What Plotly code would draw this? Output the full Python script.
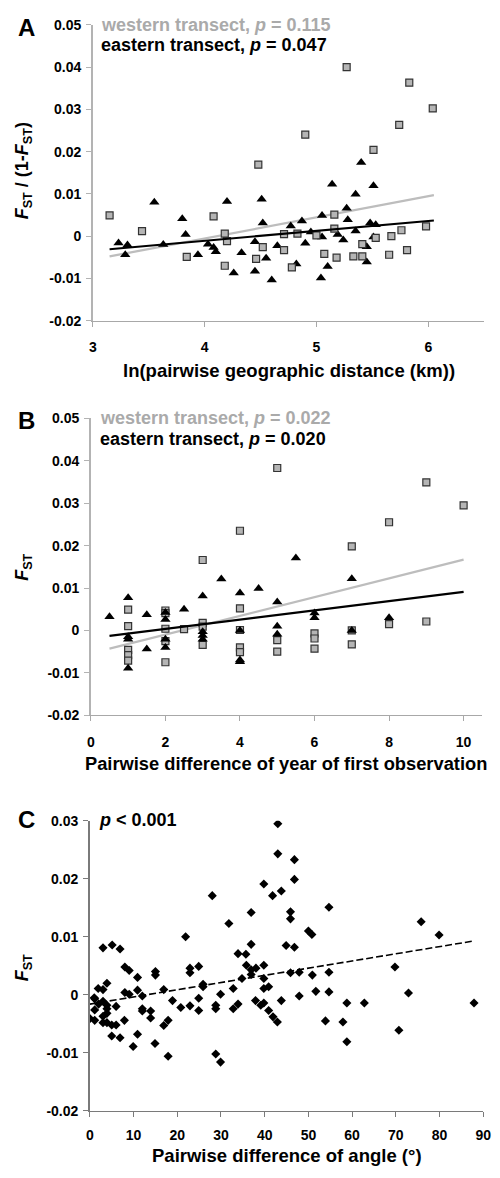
import plotly.graph_objects as go

# ---- panel A: ln(distance) vs Fst/(1-Fst)
west_a_x = [3.15, 3.44, 3.84, 4.08, 4.18, 4.20, 4.18, 4.46, 4.48, 4.52, 4.71, 4.71, 4.78, 4.83, 4.90,
            5.00, 5.07, 5.16, 5.16, 5.18, 5.27, 5.33, 5.41, 5.41, 5.51, 5.53, 5.65, 5.67, 5.74, 5.76,
            5.81, 5.83, 5.98, 6.04]
west_a_y = [0.0049, 0.0012, -0.0049, 0.0047, 0.0006, -0.0012, -0.0070, -0.0054, 0.0169, -0.0026,
            0.0005, -0.0033, -0.0074, 0.0006, 0.0240, 0.0002, -0.0042, 0.0051, 0.0018, -0.0051,
            0.0400, -0.0048, -0.0048, -0.0019, 0.0204, -0.0004, -0.0044, 0.0000, 0.0263, 0.0014,
            -0.0033, 0.0363, 0.0023, 0.0302]
east_a_x = [3.23, 3.29, 3.31, 3.55, 3.63, 3.80, 3.83, 3.94, 4.03, 4.08, 4.10, 4.20, 4.26, 4.33, 4.45,
            4.45, 4.51, 4.52, 4.55, 4.60, 4.65, 4.77, 4.82, 4.87, 4.90, 4.95, 5.04, 5.05, 5.05, 5.10,
            5.14, 5.19, 5.24, 5.27, 5.28, 5.35, 5.35, 5.40, 5.45, 5.45, 5.48, 5.51, 5.51, 5.53]
east_a_y = [-0.0016, -0.0044, -0.0021, 0.0080, -0.0020, 0.0041, 0.0004, -0.0044, -0.0019, -0.0027,
            -0.0037, 0.0082, -0.0087, -0.0039, -0.0013, -0.0083, 0.0087, 0.0031, -0.0052, -0.0104,
            -0.0023, 0.0024, -0.0066, 0.0036, -0.0017, 0.0010, -0.0099, 0.0049, -0.0002, -0.0072,
            0.0123, 0.0004, -0.0009, 0.0066, 0.0039, 0.0012, 0.0099, 0.0174, -0.0025, -0.0061,
            0.0031, -0.0002, 0.0119, 0.0027]
trend_a_x = [3.15, 6.05]
trend_a_west = [-0.0048, 0.0097]
trend_a_east = [-0.0031, 0.0037]

# ---- panel B: difference of year of first observation vs Fst
west_b_x = [1, 1, 1, 1, 1, 2, 2, 2, 2, 2, 2.5, 3, 3, 3, 3, 4, 4, 4, 4, 4, 5, 5, 5, 6, 6, 6,
            7, 7, 7, 8, 8, 9, 9, 10]
west_b_y = [0.0049, 0.0010, -0.0046, -0.0058, -0.0071, 0.0047, 0.0041, 0.0004, -0.0025, -0.0075,
            0.0003, 0.0166, 0.0018, 0.0009, -0.0034, 0.0235, 0.0052, 0.0001, -0.0040, -0.0051,
            0.0383, -0.0023, -0.0050, -0.0007, -0.0019, -0.0043, 0.0198, 0.0000, -0.0033,
            0.0255, 0.0015, 0.0349, 0.0021, 0.0295]
east_b_x = [0.5, 1, 1, 1, 1, 1.5, 1.5, 2, 2, 2, 2, 2.5, 3, 3, 3, 3, 3.5, 4, 4, 4, 4, 4.5,
            5, 5, 5, 5.5, 6, 6, 7, 7, 8]
east_b_y = [0.0032, 0.0077, -0.0015, -0.0021, -0.0089, 0.0037, -0.0044, 0.0042, 0.0026, -0.0021,
            -0.0040, 0.0050, 0.0081, -0.0003, -0.0012, -0.0021, 0.0121, 0.0088, 0.0000, -0.0070,
            -0.0074, 0.0099, 0.0067, 0.0010, -0.0009, 0.0171, 0.0041, 0.0030, 0.0122, 0.0000, 0.0030]
trend_b_x = [0.5, 10]
trend_b_west = [-0.0043, 0.0167]
trend_b_east = [-0.0013, 0.0091]

# ---- panel C: difference of angle vs Fst
angle_c = [43.0, 43.0, 46.8, 46.8, 43.8, 39.8, 41.8, 28.0, 54.7, 31.8, 36.9, 45.9, 45.9, 75.8, 79.9,
           50.0, 50.8, 21.9, 44.9, 46.8, 36.9, 33.9, 35.7, 35.8, 36.9, 38.0, 39.8, 36.9, 34.8, 39.8,
           40.9, 39.8, 45.9, 47.9, 50.9, 54.7, 69.8, 51.7, 54.7, 72.9, 47.9, 43.8, 32.8, 29.9, 25.9,
           25.9, 24.9, 22.9, 22.9, 24.9, 15.0, 15.0, 16.9, 10.9, 10.9, 12.0, 8.0, 9.0, 6.9, 5.1,
           3.0, 3.9, 1.9, 3.0, 8.0, 9.0, 1.0,
           0.0, 1.1, 1.1, 1.1, 2.0, 3.0, 3.0, 3.0, 3.9, 3.9, 3.9, 3.9, 5.0, 6.0, 6.0, 5.0, 6.9, 7.9,
           9.9, 10.9, 12.0, 12.0, 13.9, 13.9, 14.9, 16.9, 17.9, 17.9, 18.9, 20.8, 22.9, 24.9, 28.8,
           28.8, 28.8, 29.9, 32.8, 33.9, 37.9, 39.1, 39.8, 40.9, 41.9, 42.9, 53.9, 57.9, 58.8, 58.8,
           62.8, 70.7, 87.9]
fst_c = [0.0295, 0.0243, 0.0233, 0.0199, 0.0179, 0.0191, 0.0171, 0.0171, 0.0151, 0.0123, 0.0142,
         0.0143, 0.0131, 0.0126, 0.0103, 0.0110, 0.0104, 0.0100, 0.0085, 0.0082, 0.0087, 0.0071,
         0.0070, 0.0051, 0.0043, 0.0046, 0.0051, 0.0035, 0.0028, 0.0028, 0.0014, 0.0011, 0.0038,
         0.0039, 0.0034, 0.0039, 0.0048, 0.0006, 0.0005, 0.0003, -0.0002, -0.0010, 0.0011, 0.0001,
         0.0018, 0.0014, 0.0049, 0.0046, 0.0038, -0.0006, 0.0034, 0.0040, 0.0009, 0.0030, 0.0008,
         -0.0002, 0.0048, 0.0042, 0.0079, 0.0086, 0.0081, 0.0020, 0.0011, 0.0009, 0.0004, 0.0001,
         -0.0005,
         -0.0041, -0.0044, -0.0026, -0.0007, -0.0016, -0.0011, -0.0037, -0.0048, -0.0018, -0.0024,
         -0.0032, -0.0048, -0.0052, -0.0020, -0.0052, -0.0071, -0.0074, -0.0044, -0.0089, -0.0068,
         -0.0024, -0.0028, -0.0028, -0.0040, -0.0084, -0.0053, -0.0044, -0.0106, -0.0010, -0.0022,
         -0.0019, -0.0027, -0.0018, -0.0024, -0.0102, -0.0116, -0.0024, -0.0016, -0.0010, -0.0018,
         -0.0014, -0.0027, -0.0038, -0.0047, -0.0045, -0.0047, -0.0081, -0.0014, -0.0014, -0.0061,
         -0.0014]
trend_c_x = [0, 88]
trend_c_y = [-0.0016, 0.0093]

ab_yticks = [-0.02, -0.01, 0, 0.01, 0.02, 0.03, 0.04, 0.05]
ab_yticktext = ["-0.02", "-0.01", "0", "0.01", "0.02", "0.03", "0.04", "0.05"]
c_yticks = [-0.02, -0.01, 0, 0.01, 0.02, 0.03]
c_yticktext = ["-0.02", "-0.01", "0", "0.01", "0.02", "0.03"]
a_xticks = [3, 4, 5, 6]
b_xticks = [0, 2, 4, 6, 8, 10]
c_xticks = [0, 10, 20, 30, 40, 50, 60, 70, 80, 90]

W, H = 500, 1178
FONT = "Liberation Sans"
GREY = "#b3b3b3"


def fx(x):
    return x / W


def fy(y):
    return 1 - y / H


sq = dict(symbol="square", size=7, color="#b5b5b5", line=dict(color="#333333", width=1.2))
tri = dict(symbol="triangle-up", size=9, color="black", line=dict(width=0))

fig = go.Figure()

# panel A
fig.add_trace(go.Scatter(x=trend_a_x, y=trend_a_west, mode="lines",
                         line=dict(color="#bdbdbd", width=2.2), xaxis="x", yaxis="y"))
fig.add_trace(go.Scatter(x=east_a_x, y=east_a_y, mode="markers", marker=tri, xaxis="x", yaxis="y"))
fig.add_trace(go.Scatter(x=west_a_x, y=west_a_y, mode="markers", marker=sq, xaxis="x", yaxis="y"))
fig.add_trace(go.Scatter(x=trend_a_x, y=trend_a_east, mode="lines",
                         line=dict(color="black", width=2.2), xaxis="x", yaxis="y"))

# panel B
fig.add_trace(go.Scatter(x=trend_b_x, y=trend_b_west, mode="lines",
                         line=dict(color="#bdbdbd", width=2.2), xaxis="x2", yaxis="y2"))
fig.add_trace(go.Scatter(x=west_b_x, y=west_b_y, mode="markers", marker=sq, xaxis="x2", yaxis="y2"))
fig.add_trace(go.Scatter(x=east_b_x, y=east_b_y, mode="markers", marker=tri, xaxis="x2", yaxis="y2"))
fig.add_trace(go.Scatter(x=trend_b_x, y=trend_b_east, mode="lines",
                         line=dict(color="black", width=2.2), xaxis="x2", yaxis="y2"))

# panel C
fig.add_trace(go.Scatter(x=angle_c, y=fst_c, mode="markers",
                         marker=dict(symbol="diamond", size=7, color="black"), xaxis="x3", yaxis="y3"))
fig.add_trace(go.Scatter(x=trend_c_x, y=trend_c_y, mode="lines",
                         line=dict(color="black", width=1.6, dash="7px,3px"), xaxis="x3", yaxis="y3"))

tickfont = dict(family=FONT, size=14, color="black", weight="bold")


def xax(rng, ticks, dom, anchor, color, standoff):
    return dict(range=rng, tickvals=ticks, domain=dom, anchor=anchor, showgrid=False, zeroline=False,
                showline=True, linecolor=color, linewidth=1.3, ticks="outside", ticklen=5,
                tickcolor=color, tickfont=tickfont, ticklabelstandoff=standoff, fixedrange=True)


def yax(rng, ticks, text, dom, anchor, color):
    return dict(range=rng, tickvals=ticks, ticktext=text, domain=dom, anchor=anchor, showgrid=False,
                zeroline=False, showline=True, linecolor=color, linewidth=1.5, ticks="outside",
                ticklen=5, tickcolor=color, tickfont=tickfont, ticklabelstandoff=2, fixedrange=True)


fig.update_layout(
    width=W, height=H,
    margin=dict(l=0, r=0, t=0, b=0),
    paper_bgcolor="white", plot_bgcolor="white",
    showlegend=False,
    font=dict(family=FONT, color="black"),
    xaxis=xax([3, 6.5], a_xticks, [fx(91), fx(492)], "y", "#a8a8a8", 8),
    yaxis=yax([-0.02, 0.05], ab_yticks, ab_yticktext, [fy(317), fy(17)], "x", GREY),
    xaxis2=xax([0, 10.5], b_xticks, [fx(89), fx(490)], "y2", "#a8a8a8", 9),
    yaxis2=yax([-0.02, 0.05], ab_yticks, ab_yticktext, [fy(717), fy(416)], "x2", GREY),
    xaxis3=xax([0, 90], c_xticks, [fx(88), fx(491)], "y3", "#7a7a7a", 6),
    yaxis3=yax([-0.02, 0.03], c_yticks, c_yticktext, [fy(1118), fy(824)], "x3", "#7a7a7a"),
)


def note(text, x, y, size, color="black", xanchor="left", angle=0):
    fig.add_annotation(text=text, x=fx(x), y=fy(y), xref="paper", yref="paper", showarrow=False,
                       xanchor=xanchor, yanchor="middle", textangle=angle,
                       font=dict(family=FONT, size=size, color=color, weight="bold"))


# panel letters
note("A", 12, 20, 24)
note("B", 12, 418, 24)
note("C", 12, 823, 24)

# legend-like labels
note("western transect, <i>p</i> = 0.115", 97, 17, 18, "#aaaaaa")
note("eastern transect, <i>p</i> = 0.047", 97, 38, 18)
note("western transect, <i>p</i> = 0.022", 96, 416, 18, "#aaaaaa")
note("eastern transect, <i>p</i> = 0.020", 96, 437, 18)
note("<i>p</i> < 0.001", 95, 823, 18)

# axis titles
note("<i>F</i><sub>ST</sub> / (1-<i>F</i><sub>ST</sub>)", 20, 165, 18, xanchor="center", angle=-90)
note("<i>F</i><sub>ST</sub>", 20, 567, 18, xanchor="center", angle=-90)
note("<i>F</i><sub>ST</sub>", 20, 973, 18, xanchor="center", angle=-90)
note("ln(pairwise geographic distance (km))", 292, 367, 18.5, xanchor="center")
note("Pairwise difference of year of first observation", 289, 766, 18.3, xanchor="center")
note("Pairwise difference of angle (°)", 290, 1163, 18.5, xanchor="center")

# drop the default page margin so the 500x1178 figure fills the window exactly
fig.write_html("out.html", config={"displayModeBar": False},
               post_script="document.body.style.margin='0px';")
